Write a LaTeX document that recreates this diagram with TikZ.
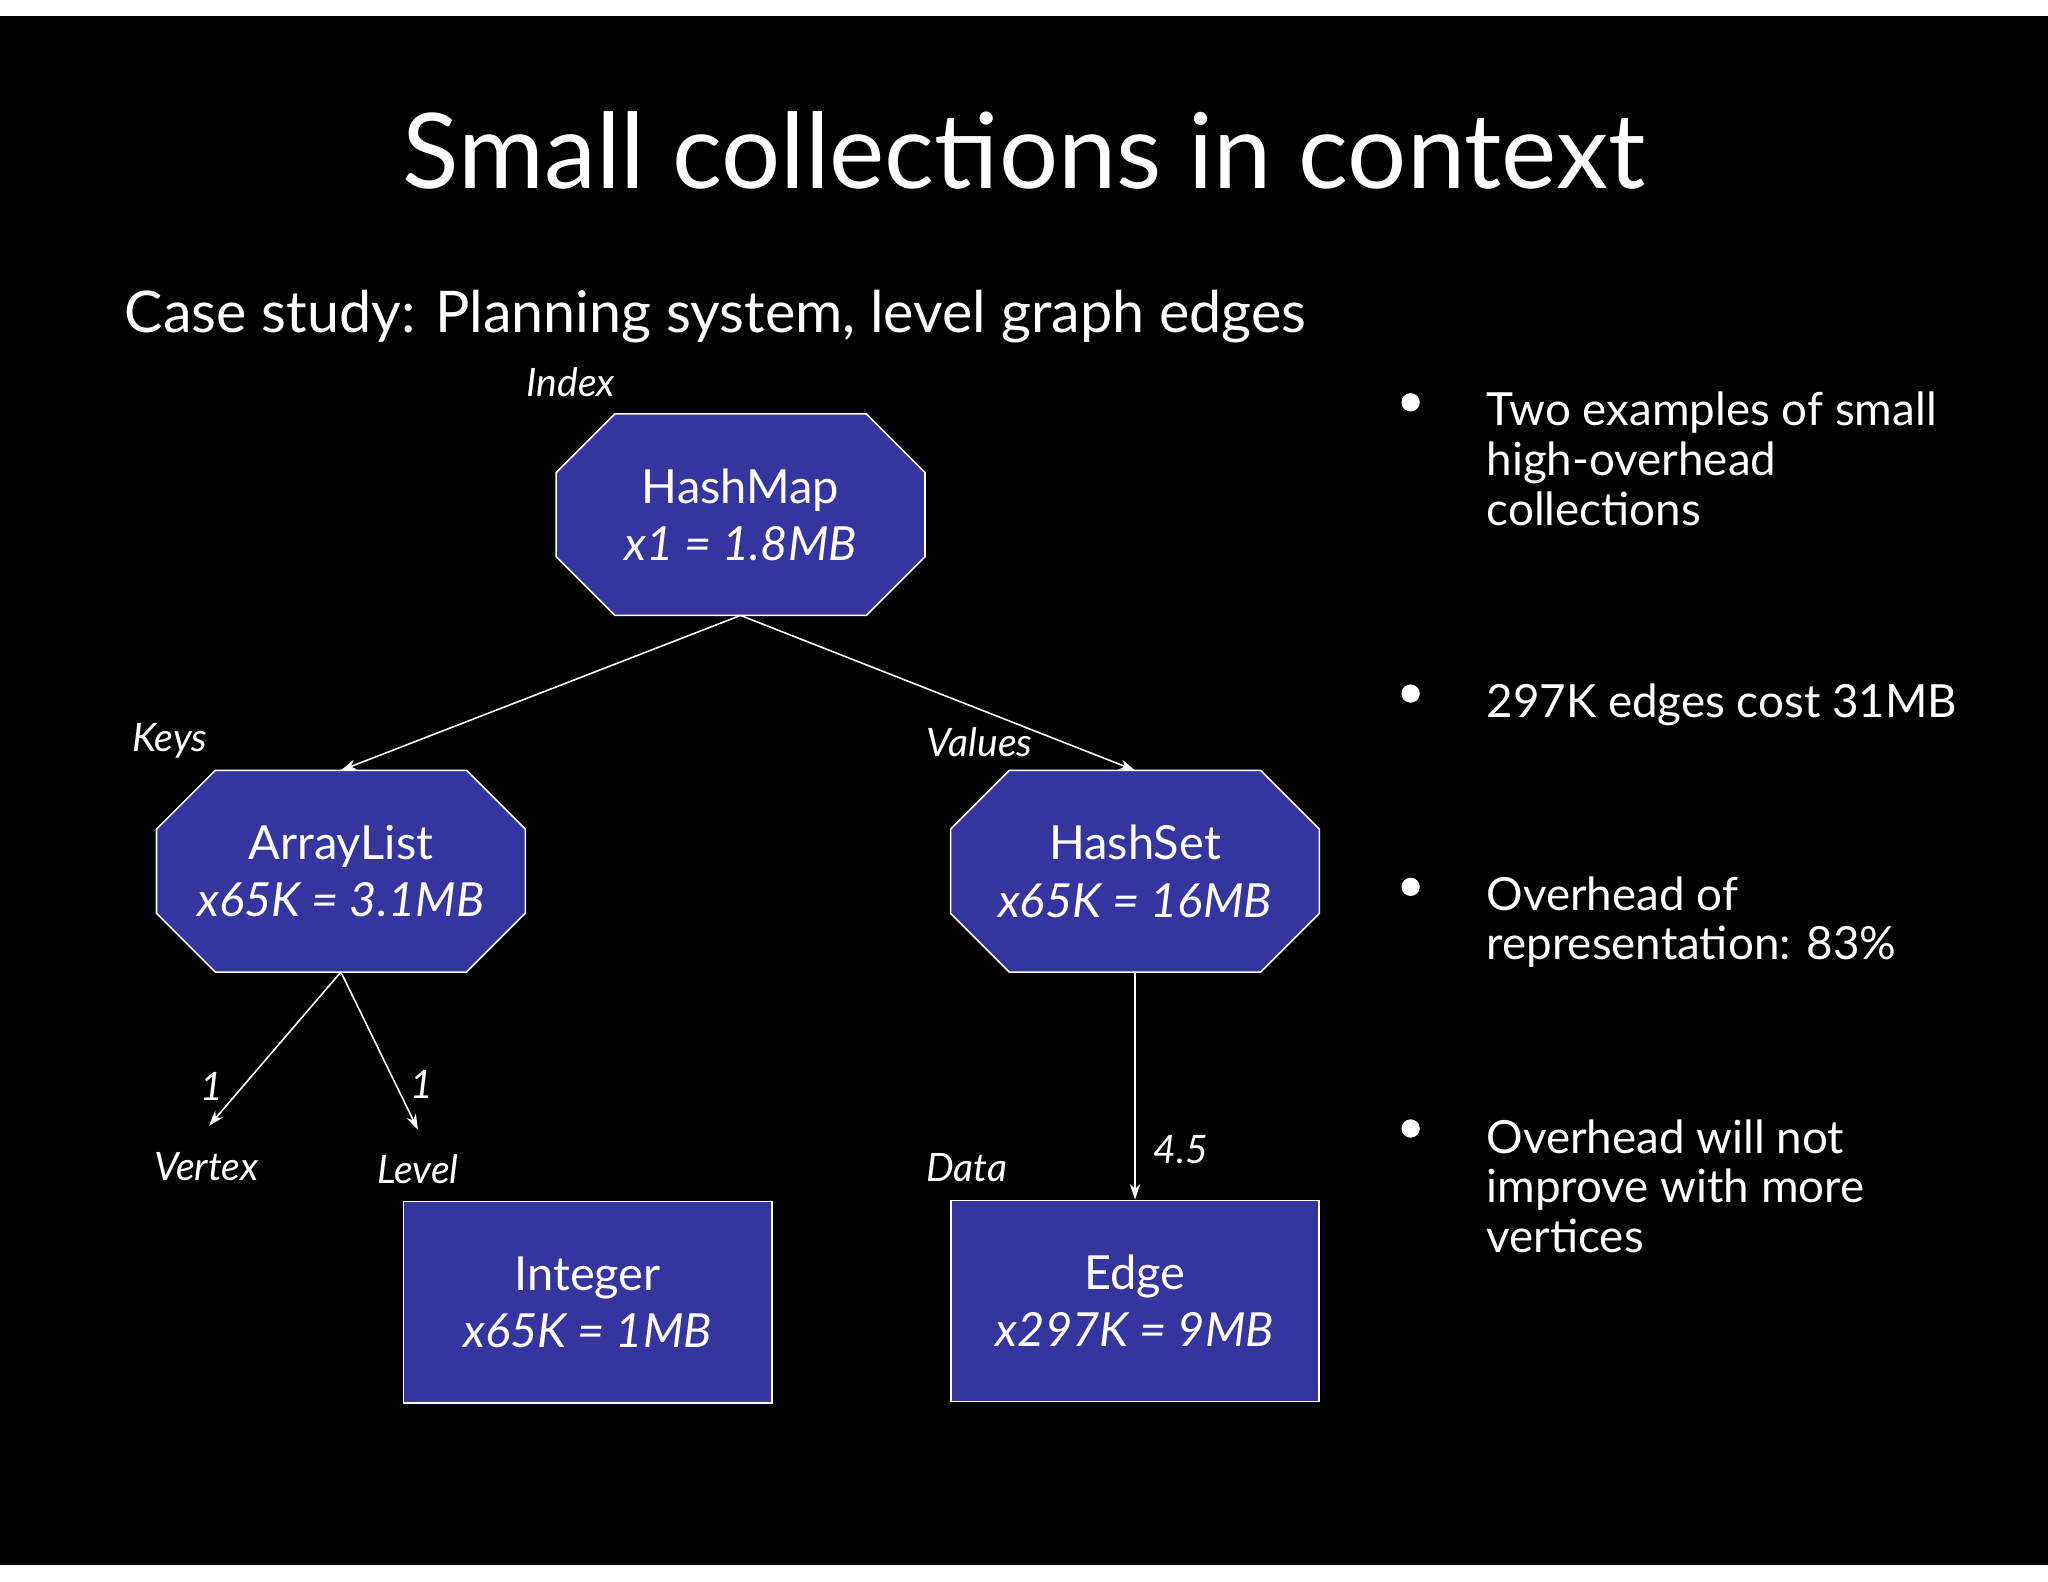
\documentclass[tikz,border=0pt]{standalone}
\usepackage{fontspec}
\setmainfont{Lato}
\usetikzlibrary{calc,arrows.meta}
\definecolor{boxblue}{RGB}{53,53,160}
\tikzset{
  box/.style={minimum width=282pt,minimum height=154pt,inner sep=0pt,align=center,text=white,font=\fontsize{36}{44}\selectfont},
  sqbox/.style={box,draw=white,line width=1.2pt,fill=boxblue},
  lbl/.style={text=white,font=\fontsize{30}{36}\selectfont\itshape,inner sep=0pt},
  conn/.style={white,line width=1.2pt,-{Stealth[length=12pt,width=8pt]}},
  bul/.style={text=white,font=\fontsize{35}{38}\selectfont,align=left,anchor=north west,inner sep=0pt},
}
\newcommand{\octo}[1]{%
  \draw[white,line width=1.2pt,fill=boxblue]
   ($(#1.north west)+(45,0)$) -- ($(#1.north east)+(-45,0)$) -- ($(#1.north east)+(0,-45)$)
   -- ($(#1.south east)+(0,45)$) -- ($(#1.south east)+(-45,0)$) -- ($(#1.south west)+(45,0)$)
   -- ($(#1.south west)+(0,45)$) -- ($(#1.north west)+(0,-45)$) -- cycle;}
\begin{document}
\begin{tikzpicture}[x=1pt,y=1pt]
\useasboundingbox (0,0) rectangle (1568,-1211);
\fill[white] (0,0) rectangle (1568,-1211);
\fill[black] (0,-12) rectangle (1568,-1198);
\node[text=white,font=\fontsize{80}{90}\selectfont] (title) at (784,-115) {Small collections in context};
\node[text=white,font=\fontsize{44}{50}\selectfont,anchor=west] (sub) at (92,-242) {Case study: Planning system, level graph edges};
% boxes
\node[box] (hm) at (567,-394) {};
\node[box] (al) at (261,-667) {};
\node[box] (hs) at (869,-667) {};
\octo{hm}\octo{al}\octo{hs}
\node[box] at (hm) {HashMap\\\itshape x1 = 1.8MB};
\node[box] at (al) {ArrayList\\\itshape x65K = 3.1MB};
\node[box] at (hs) {HashSet\\\itshape x65K = 16MB};
\node[sqbox] (int) at (450,-997) {Integer\\\itshape x65K = 1MB};
\node[sqbox] (edge) at (869,-996) {Edge\\\itshape x297K = 9MB};
% labels
\node[lbl] (lindex) at (437,-293) {Index};
\node[lbl] (lkeys) at (130,-567) {Keys};
\node[lbl] (lvalues) at (750,-568) {Values};
\node[lbl] (l1) at (162,-832) {1};
\node[lbl] (l2) at (323,-830) {1};
\node[lbl] (lvertex) at (158,-893) {Vertex};
\node[lbl] (llevel) at (320,-895) {Level};
\node[lbl] (ldata) at (740,-894) {Data};
\node[lbl] (l45) at (904,-880) {4.5};
\coordinate (cv) at (160,-862);
\coordinate (cl) at (320,-865);
% connectors
\draw[conn] (hm.south) -- (al.north);
\draw[conn] (hm.south) -- (hs.north);
\draw[conn] (al.south) -- (cv);
\draw[conn] (al.south) -- (cl);
\draw[conn] (hs.south) -- (edge.north);
% bullets
\foreach \y in {308,531,679,864} \fill[white] (1080,-\y) circle (7);
\node[bul] (b1) at (1138,-300) {Two examples of small\\high-overhead\\collections};
\node[bul] (b2) at (1138,-523) {297K edges cost 31MB};
\node[bul] (b3) at (1138,-671) {Overhead of\\representation: 83\%};
\node[bul] (b4) at (1138,-857) {Overhead will not\\improve with more\\vertices};
\end{tikzpicture}
\end{document}
